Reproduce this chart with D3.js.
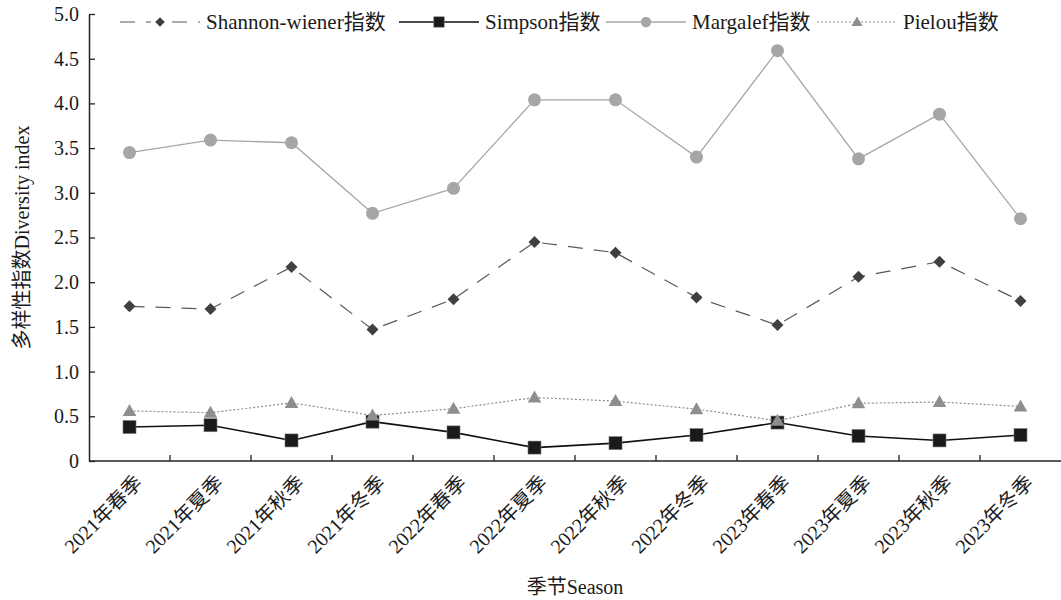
<!DOCTYPE html>
<html><head><meta charset="utf-8">
<script src="https://cdn.jsdelivr.net/npm/d3@7"></script>
<style>body{margin:0;background:#fff}</style>
</head><body><svg id="c" width="1061" height="600"></svg>
<script>
const categories=["2021年春季","2021年夏季","2021年秋季","2021年冬季","2022年春季","2022年夏季","2022年秋季","2022年冬季","2023年春季","2023年夏季","2023年秋季","2023年冬季"];
const shannon=[1.73,1.70,2.17,1.47,1.81,2.45,2.33,1.83,1.52,2.06,2.23,1.79];
const simpson=[0.38,0.40,0.23,0.44,0.32,0.15,0.20,0.29,0.43,0.28,0.23,0.29];
const margalef=[3.45,3.59,3.56,2.77,3.05,4.04,4.04,3.40,4.59,3.38,3.88,2.71];
const pielou=[0.56,0.54,0.65,0.51,0.585,0.71,0.67,0.58,0.45,0.645,0.66,0.61];
const yTicks=[0,0.5,1.0,1.5,2.0,2.5,3.0,3.5,4.0,4.5,5.0];
const seriesNames=["Shannon-wiener指数","Simpson指数","Margalef指数","Pielou指数"];

const FONT="'Liberation Serif','Times New Roman',Times,'Noto Sans CJK SC',serif";
const svg=d3.select("#c").attr("font-family",FONT);
const L=89,R=1061,T=14,B=461;
const x=d3.scaleBand().domain(categories).range([L,R]).padding(0);
const y=d3.scaleLinear().domain([0,5]).range([B,T]);
const cx=d=>x(d)+x.bandwidth()/2;

// y axis
const ya=svg.append("g").attr("transform",`translate(${L},0)`)
 .call(d3.axisLeft(y).tickValues(yTicks).tickSizeInner(-6).tickSizeOuter(0).tickPadding(10).tickFormat(d=>d===0?"0":d.toFixed(1)));
ya.attr("font-family",FONT);
ya.select(".domain").attr("stroke","#222").attr("stroke-width",1.5);
ya.selectAll(".tick line").attr("stroke","#222").attr("stroke-width",1.3);
ya.selectAll(".tick text").attr("font-family",FONT).style("font-size","20px").attr("fill","#1a1a1a");

// x axis
const xg=svg.append("g");
xg.append("line").attr("x1",L).attr("x2",R).attr("y1",B).attr("y2",B).attr("stroke","#222").attr("stroke-width",1.5);
xg.selectAll("line.tk").data(categories.slice(1)).join("line").attr("class","tk")
 .attr("x1",d=>x(d)).attr("x2",d=>x(d)).attr("y1",B).attr("y2",B-6).attr("stroke","#222").attr("stroke-width",1.3);
xg.selectAll("text").data(categories).join("text")
 .attr("transform",d=>`translate(${cx(d)+4},${B+13}) rotate(-45)`)
 .attr("text-anchor","end").attr("dy","0.7em").attr("font-family",FONT).style("font-size","20px").attr("fill","#1a1a1a").text(d=>d);

// titles
svg.append("text").attr("x",(L+R)/2).attr("y",594).attr("text-anchor","middle").attr("font-family",FONT).style("font-size","20px").attr("fill","#1a1a1a").text("季节Season");
svg.append("text").attr("transform",`translate(29,${(T+B)/2}) rotate(-90)`).attr("text-anchor","middle").attr("font-family",FONT).style("font-size","20px").attr("fill","#1a1a1a").text("多样性指数Diversity index");

const line=d3.line().x((d,i)=>cx(categories[i])).y(d=>y(d));

const styles=[
 {data:shannon,stroke:"#595959",w:1.2,dash:"15,11",mk:"diamond",fill:"#404040"},
 {data:simpson,stroke:"#111",w:1.6,dash:null,mk:"square",fill:"#1a1a1a"},
 {data:margalef,stroke:"#a6a6a6",w:1.3,dash:null,mk:"circle",fill:"#a6a6a6"},
 {data:pielou,stroke:"#8c8c8c",w:1.2,dash:"2,2",mk:"triangle",fill:"#8e8e8e"}
];
function marker(g,type,fill,px,py,sc){
 sc=sc||1;
 if(type==="diamond") g.append("path").attr("d",`M${px},${py-6*sc}L${px+6*sc},${py}L${px},${py+6*sc}L${px-6*sc},${py}Z`).attr("fill",fill);
 else if(type==="square") g.append("rect").attr("x",px-6.5*sc).attr("y",py-6.5*sc).attr("width",13*sc).attr("height",13*sc).attr("fill",fill).attr("stroke","#777").attr("stroke-width",0.6);
 else if(type==="circle") g.append("circle").attr("cx",px).attr("cy",py).attr("r",6.5*sc).attr("fill",fill);
 else g.append("path").attr("d",`M${px},${py-7*sc}L${px+6.8*sc},${py+5*sc}L${px-6.8*sc},${py+5*sc}Z`).attr("fill",fill);
}
styles.forEach(s=>{
 const g=svg.append("g");
 g.append("path").attr("d",line(s.data)).attr("fill","none").attr("stroke",s.stroke).attr("stroke-width",s.w).attr("stroke-dasharray",s.dash);
 s.data.forEach((v,i)=>marker(g,s.mk,s.fill,cx(categories[i]),y(v)));
});

// legend
const legStart=[120,399,606,817];
styles.forEach((s,i)=>{
 const g=svg.append("g");
 const x1=legStart[i],x2=x1+80,ly=22;
 g.append("line").attr("x1",x1).attr("x2",x2).attr("y1",ly).attr("y2",ly).attr("stroke",s.stroke).attr("stroke-width",s.w).attr("stroke-dasharray",s.dash);
 g.append("rect").attr("x",(x1+x2)/2-9).attr("y",ly-8).attr("width",18).attr("height",16).attr("fill","#fff").attr("opacity",s.dash==="15,11"?1:0);
 marker(g,s.mk,s.fill,(x1+x2)/2,ly,0.8);
 g.append("text").attr("x",x2+6).attr("y",ly).attr("dy","0.35em").attr("font-family",FONT).style("font-size","21px").attr("fill","#1a1a1a").text(seriesNames[i]);
});
</script></body></html>
